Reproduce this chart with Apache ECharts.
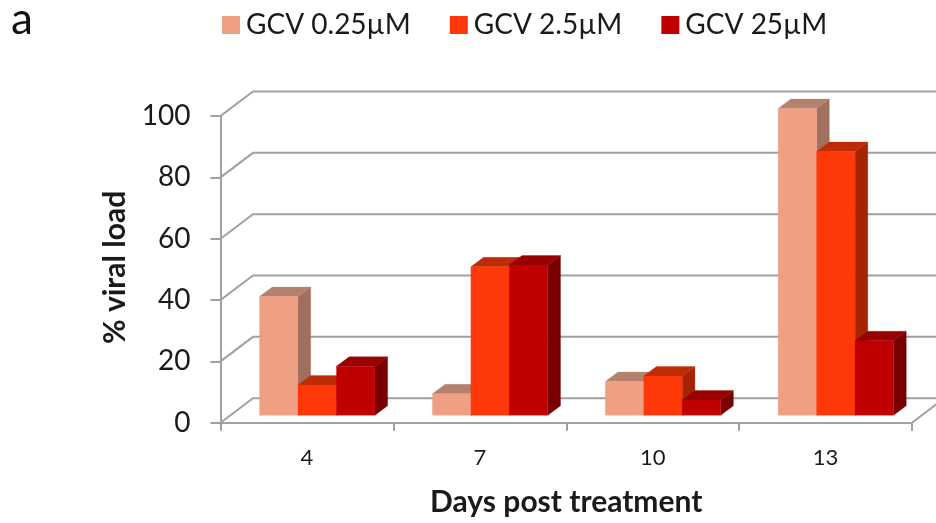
<!DOCTYPE html>
<html><head><meta charset="utf-8">
<style>html,body{margin:0;padding:0;background:#fff}#c{width:936px;height:523px}</style>
<script src="https://cdn.jsdelivr.net/npm/echarts@6/dist/echarts.min.js"></script>
</head><body><div id="c"></div>
<script>
const days = ['4','7','10','13'];
const yTicks = [0,20,40,60,80,100];
const gcv025 = [38.7,7,11,100];
const gcv25 = [9.9,48.4,12.8,86];
const gcv250 = [16,49,5,24.3];
const names = ['GCV 0.25µM','GCV 2.5µM','GCV 25µM'];
const font = 'Lato';
const gridColor = '#a0a0a0';
const textColor = '#1a1a1a';
const faces = [
  {front:'#EE9F84',top:'#B5806C',side:'#A0705E'},
  {front:'#FF380A',top:'#BE2C06',side:'#A52503'},
  {front:'#C00000',top:'#990000',side:'#780000'}
];
const wallDx = 32.5, wallDy = -24.5;
const floorDx = 0, floorDy = -7.4;
const depthDx = 12.7, depthDy = -9.5;
const barRatio = 0.2225, groupShift = 10.3;

function barSeries(name, values, idx){
  return {
    name, type:'custom', clip:false, z:3+idx,
    itemStyle:{color:faces[idx].front},
    encode:{x:0,y:1},
    data: values.map((v,i)=>[days[i],v]),
    renderItem(params, api){
      const top = api.coord([api.value(0), api.value(1)]);
      const base = api.coord([api.value(0), 0]);
      const w = api.size([1,0])[0]*barRatio;
      const x0 = top[0] + groupShift + (idx-1.5)*w + floorDx;
      const x1 = x0 + w;
      const yt = top[1] + floorDy, yb = base[1] + floorDy;
      const f = faces[idx];
      const poly = (points, fill)=>({type:'polygon',shape:{points},style:{fill,stroke:fill,lineWidth:0.3}});
      return {type:'group',children:[
        poly([[x1,yb],[x1+depthDx,yb+depthDy],[x1+depthDx,yt+depthDy],[x1,yt]], f.side),
        poly([[x0,yt],[x1,yt],[x1+depthDx,yt+depthDy],[x0+depthDx,yt+depthDy]], f.top),
        poly([[x0,yb],[x1,yb],[x1,yt],[x0,yt]], f.front)
      ]};
    }
  };
}

const wallSeries = {
  name:'walls', type:'custom', clip:false, z:1, silent:true,
  encode:{y:1},
  data: yTicks.map(t=>[days[0],t]),
  renderItem(params, api){
    const cs = params.coordSys;
    const y = api.coord([api.value(0), api.value(1)])[1];
    const left = cs.x, right = cs.x+cs.width;
    const ls = {stroke:gridColor,lineWidth:2,fill:null};
    const kids = [{type:'polyline',shape:{points:[[left,y],[left+wallDx,y+wallDy],[right+wallDx,y+wallDy]]},style:ls}];
    if(api.value(1)===0){
      kids.push({type:'line',shape:{x1:right,y1:y,x2:right+wallDx,y2:y+wallDy},style:ls});
    }
    return {type:'group',children:kids};
  }
};

const chart = echarts.init(document.getElementById('c'),null,{renderer:'canvas'});
chart.setOption({
  animation:false,
  backgroundColor:'#fff',
  title:{text:'a',left:6,top:-7,textStyle:{fontFamily:font,fontSize:44,fontWeight:'normal',color:'#111'}},
  legend:{
    data:names,left:217,top:6,icon:'rect',itemWidth:18,itemHeight:18,itemGap:39,
    textStyle:{fontFamily:font,fontSize:28,color:textColor,padding:[0,0,0,1]}
  },
  grid:{left:220.5,right:24,top:116,bottom:100.3,containLabel:false,outerBoundsMode:'none'},
  xAxis:{
    type:'category',data:days,
    name:'Days post treatment',nameLocation:'middle',nameGap:65,
    nameTextStyle:{fontFamily:font,fontSize:30,fontWeight:'bold',color:textColor},
    axisLine:{lineStyle:{color:gridColor,width:2}},
    axisTick:{show:true,length:8,lineStyle:{color:gridColor,width:2},alignWithLabel:false},
    axisLabel:{fontFamily:font,fontSize:22,color:textColor,margin:24}
  },
  yAxis:{
    type:'value',min:0,max:100,interval:20,
    name:'% viral load',nameLocation:'middle',nameGap:90,
    nameTextStyle:{fontFamily:font,fontSize:30,fontWeight:'bold',color:textColor,padding:[0,0,0,4]},
    axisLine:{show:true,lineStyle:{color:gridColor,width:2}},
    axisTick:{show:true,length:10,lineStyle:{color:gridColor,width:2}},
    axisLabel:{fontFamily:font,fontSize:28,color:textColor,margin:30},
    splitLine:{show:false}
  },
  series:[wallSeries,barSeries(names[0],gcv025,0),barSeries(names[1],gcv25,1),barSeries(names[2],gcv250,2)]
});
</script></body></html>
